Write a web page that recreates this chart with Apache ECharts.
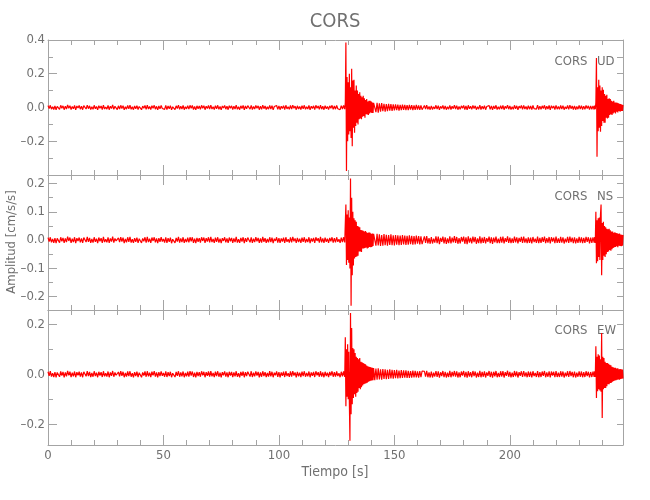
<!DOCTYPE html>
<html><head><meta charset="utf-8">
<script src="https://cdn.jsdelivr.net/npm/echarts@6/dist/echarts.min.js"></script>
<style>html,body{margin:0;padding:0;background:#fff}#c{width:650px;height:500px}</style>
</head><body><div id="c"></div><script>
// ---- sampling of the traces (segment start time [s] and step [s]) ----
const segStart = [0, 128.25, 141.5, 163, 236.25];
const segStep = [0.5, 0.25, 0.5, 0.5, 0.25];

// ---- UD component (cm/s/s) ----
const udQuiet1 = [
.011,-.006,.013,-.01,.004,-.012,.009,-.014,.007,.002,-.011,.013,-.005,.01,-.013,.008,-.009,.015,-.004,.011,
-.012,.006,-.008,.012,-.014,.009,-.003,.012,-.01,.007,-.013,.011,.004,-.009,.014,-.007,.01,-.012,.005,-.011,
.013,-.008,.006,-.014,.011,-.005,.009,-.012,.014,-.009,.003,-.01,.012,-.013,.008,-.006,.015,-.011,.007,-.004,
-.012,.01,-.009,.013,-.006,.011,-.014,.005,-.01,.012,-.008,.014,-.011,.004,-.013,.009,-.007,.011,-.012,.006,
.01,-.013,.008,-.005,.012,-.011,.014,-.009,.006,-.012,.011,-.004,.013,-.01,.007,-.014,.009,-.008,.012,-.006,
.005,-.011,.013,-.012,.009,-.007,.011,-.014,.004,.008,-.012,.01,-.006,.014,-.011,.007,-.009,.012,-.013,.005,
-.008,.011,-.01,.013,-.005,.012,-.012,.006,-.014,.01,-.007,.009,-.011,.013,-.004,.011,-.013,.008,-.006,.012,
-.01,.014,-.009,.005,-.012,.011,-.007,.013,-.011,.006,-.014,.009,-.003,.012,-.01,.008,-.013,.011,-.005,.01,
-.012,.007,-.009,.014,-.011,.004,-.013,.01,-.006,.012,-.014,.009,-.008,.011,.003,-.01,.013,-.012,.006,-.009,
.012,-.005,.01,-.013,.008,-.011,.014,-.007,.009,-.012,.005,-.01,.013,-.009,.011,-.014,.006,-.004,.012,-.011,
.009,-.013,.007,-.006,.011,-.012,.013,-.008,.004,-.011,.012,-.01,.014,-.005,.008,-.013,.01,-.009,.006,-.012,
.011,-.007,.013,-.011,.005,-.009,.012,-.014,.008,-.006,.01,-.012,.013,-.004,.009,-.011,.014,-.01,.007,-.013,
.011,-.008,.006,-.012,.01,-.005,.013,-.011,.009,-.01,.012,-.007,.004,-.013,.011,-.009,.012];
const udEvent1 = [.012,-.01,.03,
.385,-.377,.18,-.2, .15,-.16,.2,-.14, .12,-.18,.23,-.23, .16,-.12,.165,-.15,
.1,-.11,.13,-.09, .1,-.1,.08,-.07, .09,-.065,.07,-.07, .06,-.055,.07,-.05,
.055,-.06,.045,-.04, .05,-.042,.035,-.045, .04,-.035,.04,-.03, .035,-.033,.03,-.032, .028];
const udCoda1 = [.03,-.028,.027,-.03,.025,-.024,.026,-.022,.022,-.025,
.02,-.022,.021,-.018,.02,-.02,.018,-.017,.019,-.016,
.017,-.018,.015,-.016,.017,-.014,.015,-.016,.014,-.015,
.016,-.013,.014,-.015,.013,-.014,.015,-.012,.013,-.014,
.012,-.013];
const udQuiet2 = [
.012,-.009,.014,-.011,.006,-.013,.01,-.012,.004,-.008,.013,-.01,.011,-.014,.007,-.006,.012,-.011,.009,-.013,
.005,-.01,.013,-.012,.008,-.007,.014,-.009,.011,-.013,.006,-.011,.01,-.004,.012,-.012,.009,-.014,.013,-.008,
.007,-.011,.012,-.006,.01,-.013,.005,-.01,.014,-.012,.008,-.009,.011,-.013,.006,-.005,.012,-.011,.01,-.014,
.009,-.007,.013,-.012,.004,-.011,.011,-.009,.012,-.013,.007,-.006,.014,-.01,.009,-.012,.005,-.011,.013,-.008,
.01,-.014,.008,-.005,.012,-.011,.013,-.009,.006,-.012,.011,-.01,.009,-.013,.012,-.007,.004,-.01,.014,-.012,
.008,-.011,.01,-.006,.013,-.012,.007,-.009,.012,-.014,.011,-.005,.009,-.012,.013,-.01,.006,-.011,.012,-.009,
.011,-.013,.005,-.008,.012,-.011,.014,-.007,.009,-.012,.01,-.013,.006,-.01,.013,-.009,.011,-.012,.008,-.011,
.012,-.006,.01,-.013,.009,-.011,.01];
const udEvent2 = [.01,-.012,.011,
-.01,.03,.294,-.292, .12,-.14,.165,-.12, .13,-.143,.1,-.11, .12,-.08,.105,-.09,
.08,-.09,.07,-.06, .075,-.065,.05,-.06, .055,-.045,.05,-.04, .04,-.044,.036,-.035,
.04,-.03,.03,-.035, .03,-.025,.028,-.03, .025,-.02,.022,-.025, .02,-.02,.018,-.02, .015];

// ---- NS component ----
const nsQuiet1 = [
.009,-.005,.01,-.008,.004,-.01,.007,-.011,.006,.002,-.009,.01,-.004,.008,-.01,.006,-.007,.012,-.003,.009,
-.01,.005,-.007,.01,-.011,.007,-.003,.009,-.008,.006,-.01,.009,.003,-.007,.011,-.006,.008,-.01,.004,-.009,
.01,-.006,.005,-.011,.009,-.004,.007,-.01,.011,-.007,.003,-.008,.01,-.01,.006,-.005,.012,-.009,.006,-.003,
-.01,.008,-.007,.01,-.005,.009,-.011,.004,-.008,.01,-.006,.011,-.009,.003,-.01,.007,-.006,.009,-.01,.005,
.008,-.01,.006,-.004,.01,-.009,.011,-.007,.005,-.01,.009,-.003,.01,-.008,.006,-.011,.007,-.006,.01,-.005,
.004,-.009,.01,-.01,.007,-.006,.009,-.011,.003,.006,-.01,.008,-.005,.011,-.009,.006,-.007,.01,-.01,.004,
-.007,.009,-.008,.01,-.004,.01,-.01,.005,-.011,.008,-.006,.007,-.009,.01,-.003,.009,-.01,.007,-.005,.01,
-.008,.011,-.007,.004,-.01,.009,-.006,.01,-.009,.005,-.011,.007,-.003,.01,-.008,.006,-.01,.009,-.004,.008,
-.01,.006,-.007,.011,-.009,.003,-.01,.008,-.005,.01,-.011,.007,-.006,.009,.003,-.008,.01,-.01,.005,-.007,
.01,-.004,.008,-.01,.006,-.009,.011,-.006,.007,-.01,.004,-.008,.01,-.007,.009,-.011,.005,-.003,.01,-.009,
.007,-.01,.006,-.005,.009,-.01,.01,-.006,.003,-.009,.01,-.008,.011,-.004,.006,-.01,.008,-.007,.005,-.01,
.009,-.006,.01,-.009,.004,-.007,.01,-.011,.006,-.005,.008,-.01,.01,-.003,.007,-.009,.011,-.008,.006,-.01,
.009,-.006,.005,-.01,.008,-.004,.01,-.009,.007,-.008,.01,-.006,.003,-.01,.009,-.007,.01];
const nsEvent1 = [.01,-.008,.06,
.126,-.088,.09,-.07, .105,-.08,.08,-.1, .218,-.232,.15,-.124, .1,-.09,.077,-.065,
.07,-.06,.065,-.058, .05,-.055,.048,-.04, .045,-.04,.036,-.042, .035,-.03,.033,-.03,
.03,-.028,.032,-.026, .028,-.03,.025,-.027, .028,-.024,.026,-.025, .022,-.024,.023,-.021, .022];
const nsCoda1 = [.021,-.02,.022,-.019,.02,-.021,.018,-.02,.021,-.018,
.019,-.02,.018,-.017,.02,-.018,.017,-.019,.018,-.016,
.017,-.018,.016,-.017,.018,-.015,.016,-.017,.015,-.016,
.017,-.014,.015,-.016,.014,-.015,.016,-.013,.014,-.015,
.013,-.014];
const nsQuiet2 = [
.013,-.01,.014,-.012,.007,-.013,.011,-.012,.005,-.009,.013,-.011,.012,-.014,.008,-.006,.012,-.012,.01,-.013,
.006,-.011,.013,-.012,.009,-.008,.014,-.01,.011,-.013,.007,-.012,.011,-.005,.012,-.013,.01,-.014,.013,-.009,
.008,-.012,.012,-.007,.011,-.013,.006,-.011,.013,-.012,.009,-.01,.011,-.012,.007,-.006,.012,-.011,.01,-.013,
.009,-.008,.012,-.011,.005,-.011,.011,-.009,.012,-.012,.007,-.006,.013,-.01,.009,-.011,.006,-.01,.012,-.008,
.01,-.012,.008,-.006,.011,-.01,.012,-.009,.006,-.011,.01,-.01,.009,-.012,.011,-.007,.005,-.01,.012,-.011,
.008,-.01,.01,-.006,.012,-.011,.007,-.009,.011,-.012,.01,-.005,.009,-.011,.012,-.01,.006,-.01,.011,-.009,
.01,-.012,.005,-.008,.011,-.01,.012,-.007,.009,-.011,.01,-.012,.006,-.01,.011,-.009,.01,-.011,.008,-.01,
.011,-.006,.01,-.012,.009,-.01,.01];
const nsEvent2 = [.01,-.009,.011,
-.01,.1,-.082,.07, -.075,.077,-.06,.08, -.07,.09,.126,-.124, .06,-.07,.065,-.055,
.05,-.06,.045,-.05, .04,-.042,.038,-.04, .04,-.035,.035,-.038, .03,-.032,.03,-.028,
.026,-.025,.028,-.024, .025,-.022,.024,-.025, .022,-.02,.023,-.021, .02,-.022,.019,-.02, .018];

// ---- EW component ----
const ewQuiet1 = [
.01,-.006,.012,-.009,.004,-.011,.008,-.012,.007,.003,-.01,.011,-.005,.009,-.012,.007,-.008,.013,-.004,.01,
-.011,.006,-.008,.011,-.012,.008,-.004,.01,-.009,.007,-.012,.01,.004,-.008,.012,-.007,.009,-.011,.005,-.01,
.012,-.007,.006,-.012,.01,-.005,.008,-.011,.012,-.008,.004,-.009,.011,-.012,.007,-.006,.013,-.01,.007,-.004,
-.011,.009,-.008,.012,-.006,.01,-.012,.005,-.009,.011,-.007,.012,-.01,.004,-.012,.008,-.007,.01,-.011,.006,
.009,-.012,.007,-.005,.011,-.01,.012,-.008,.006,-.011,.01,-.004,.012,-.009,.007,-.012,.008,-.007,.011,-.006,
.005,-.01,.012,-.011,.008,-.007,.01,-.012,.004,.007,-.011,.009,-.006,.012,-.01,.007,-.008,.011,-.012,.005,
-.008,.01,-.009,.012,-.005,.011,-.011,.006,-.012,.009,-.007,.008,-.01,.012,-.004,.01,-.012,.008,-.006,.011,
-.009,.012,-.008,.005,-.011,.01,-.007,.012,-.01,.006,-.012,.008,-.004,.011,-.009,.007,-.012,.01,-.005,.009,
-.011,.007,-.008,.012,-.01,.004,-.012,.009,-.006,.011,-.012,.008,-.007,.01,.004,-.009,.012,-.011,.006,-.008,
.011,-.005,.009,-.012,.007,-.01,.012,-.007,.008,-.011,.005,-.009,.012,-.008,.01,-.012,.006,-.004,.011,-.01,
.008,-.012,.007,-.006,.01,-.011,.012,-.007,.004,-.01,.011,-.009,.012,-.005,.007,-.012,.009,-.008,.006,-.011,
.01,-.007,.012,-.01,.005,-.008,.011,-.012,.007,-.006,.009,-.011,.012,-.004,.008,-.01,.012,-.009,.007,-.012,
.01,-.007,.006,-.011,.009,-.005,.012,-.01,.008,-.009,.011,-.007,.004,-.012,.01,-.008,.011];
const ewEvent1 = [.009,-.01,.148,
-.128,.1,-.09,.12, -.1,.09,-.11,-.266, .245,-.16,.185,-.12, .105,-.095,.1,-.08,
.085,-.09,.07,-.075, .065,-.07,.06,-.055, .065,-.06,.05,-.052, .048,-.045,.045,-.04,
.042,-.038,.04,-.036, .035,-.034,.032,-.03, .03,-.028,.029,-.026, .027,-.025,.026,-.024, .025];
const ewCoda1 = [-.024,.023,-.022,.024,-.021,.02,-.022,.021,-.019,.02,
-.02,.018,-.019,.02,-.017,.018,-.018,.017,-.016,.018,
-.017,.015,-.016,.017,-.015,.016,-.014,.016,-.015,.014,
-.015,.013,-.014,.015,-.013,.014,-.013,.012,-.014,.013,
-.012,.013];
const ewQuiet2 = [
.012,-.01,.014,-.012,.007,-.013,.011,-.013,.006,-.009,.013,-.011,.012,-.014,.008,-.007,.013,-.012,.01,-.013,
.006,-.011,.014,-.012,.009,-.008,.013,-.01,.012,-.013,.007,-.012,.011,-.005,.013,-.012,.01,-.014,.012,-.009,
.008,-.012,.013,-.007,.011,-.013,.006,-.011,.014,-.012,.009,-.01,.012,-.013,.007,-.006,.013,-.011,.01,-.014,
.01,-.008,.013,-.012,.005,-.011,.012,-.009,.013,-.013,.008,-.006,.014,-.01,.009,-.012,.006,-.011,.013,-.008,
.011,-.013,.008,-.006,.012,-.011,.013,-.009,.007,-.012,.011,-.01,.01,-.013,.012,-.007,.005,-.011,.013,-.012,
.008,-.011,.011,-.006,.013,-.012,.007,-.01,.012,-.013,.011,-.005,.01,-.012,.013,-.011,.006,-.011,.012,-.009,
.011,-.013,.006,-.008,.012,-.011,.013,-.007,.009,-.012,.011,-.013,.006,-.01,.012,-.01,.011,-.012,.008,-.011,
.012,-.007,.01,-.013,.009,-.011,.011];
const ewEvent2 = [.011,-.01,.012,
-.011,.112,-.095,.07, -.068,.08,-.06,.075, -.065,.06,-.07,.165, -.175,.07,-.06,.065,
-.055,.05,-.055,.045, -.048,.045,-.04,.042, -.04,.038,-.035,.036, -.034,.03,-.03,.028,
-.027,.026,-.025,.026, -.024,.023,-.022,.024, -.021,.02,-.022,.021, -.019,.02,-.018,.019, -.017];

// ---- axes ----
const xRange = [0, 249];
const xMajorTicks = [0, 50, 100, 150, 200];
const xMinorTicks = [10,20,30,40,60,70,80,90,110,120,130,140,160,170,180,190,210,220,230,240];
const yRanges = [[-0.4, 0.4], [-0.247, 0.23], [-0.283, 0.257]];
const yMajorTicks = [[-0.4, -0.2, 0, 0.2, 0.4], [-0.2, -0.1, 0, 0.1, 0.2], [-0.2, 0, 0.2]];
const yLabelTicks = [[-0.2, 0, 0.2, 0.4], [-0.2, -0.1, 0, 0.1, 0.2], [-0.2, 0, 0.2]];
const yMinorTicks = [[-0.3, -0.1, 0.1, 0.3], [-0.15, -0.05, 0.05, 0.15], [-0.1, 0.1]];
const yRightTicks = [[-0.3,-0.2,-0.1,0,0.1,0.2,0.3], [-0.2,-0.15,-0.1,-0.05,0,0.05,0.1,0.15,0.2], [-0.2,-0.1,0,0.1,0.2]];
const componentNames = ['UD', 'NS', 'EW'];
const stationName = 'CORS';
const titleText = 'CORS';
const xTitle = 'Tiempo [s]';
const yTitle = 'Amplitud [cm/s/s]';

function seg(vals, k) { return vals.map((v, i) => [+(segStart[k] + i * segStep[k]).toFixed(2), v]); }
function trace(parts) { let out = []; parts.forEach((p, k) => { out = out.concat(seg(p, k)); }); return out; }
const comps = [
  [udQuiet1, udEvent1, udCoda1, udQuiet2, udEvent2],
  [nsQuiet1, nsEvent1, nsCoda1, nsQuiet2, nsEvent2],
  [ewQuiet1, ewEvent1, ewCoda1, ewQuiet2, ewEvent2]
];

const FONT = "'Liberation Sans Narrow','DejaVu Sans Condensed','Liberation Sans',sans-serif";
const TXT = '#707070';
const AX = '#a4a4a4';
const gridTops = [40, 175, 310];
const fmt = v => (Math.abs(v) < 1e-9 ? '0.0' : v.toFixed(1).replace('-', '\u2013'));

const grids = [], xAxes = [], yAxes = [], series = [], graphics = [];
for (let g = 0; g < 3; g++) {
  grids.push({ left: 48, right: 27, top: gridTops[g], height: 135 });
  ['bottom', 'top'].forEach(pos => {
    xAxes.push({ gridIndex: g, type: 'value', position: pos, min: xRange[0], max: xRange[1],
      axisLine: { show: true, onZero: false, lineStyle: { color: AX, width: 1 } },
      axisTick: { show: true, inside: true, length: 10, lineStyle: { color: AX }, customValues: xMajorTicks },
      axisLabel: { show: g === 2 && pos === 'bottom', customValues: xMajorTicks, margin: 4, color: TXT, fontSize: 13, fontFamily: FONT },
      splitLine: { show: false } });
    xAxes.push({ gridIndex: g, type: 'value', position: pos, min: xRange[0], max: xRange[1],
      axisLine: { show: false, onZero: false },
      axisTick: { show: true, inside: true, length: 5, lineStyle: { color: AX }, customValues: xMinorTicks },
      axisLabel: { show: false }, splitLine: { show: false } });
  });
  yAxes.push({ gridIndex: g, type: 'value', position: 'left', min: yRanges[g][0], max: yRanges[g][1],
    axisLine: { show: true, onZero: false, lineStyle: { color: AX } },
    axisTick: { show: true, inside: true, length: 9, lineStyle: { color: AX }, customValues: yMajorTicks[g] },
    axisLabel: { show: true, customValues: yLabelTicks[g], formatter: fmt, margin: 3, color: TXT, fontSize: 13, fontFamily: FONT },
    splitLine: { show: false } });
  yAxes.push({ gridIndex: g, type: 'value', position: 'left', min: yRanges[g][0], max: yRanges[g][1],
    axisLine: { show: false, onZero: false },
    axisTick: { show: true, inside: true, length: 5, lineStyle: { color: AX }, customValues: yMinorTicks[g] },
    axisLabel: { show: false }, splitLine: { show: false } });
  yAxes.push({ gridIndex: g, type: 'value', position: 'right', min: yRanges[g][0], max: yRanges[g][1],
    axisLine: { show: true, onZero: false, lineStyle: { color: AX } },
    axisTick: { show: true, inside: true, length: 6, lineStyle: { color: AX }, customValues: yRightTicks[g] },
    axisLabel: { show: false }, splitLine: { show: false } });
  series.push({ type: 'line', xAxisIndex: g * 4, yAxisIndex: g * 3, data: trace(comps[g]), showSymbol: false,
    symbol: 'none', sampling: null, lineStyle: { color: '#ff0000', width: 1.2 }, animation: false, silent: true, z: 1 });
  const ly = [62, 197, 331][g];
  graphics.push({ type: 'text', x: 571, y: ly, style: { text: stationName, align: 'center', verticalAlign: 'middle', fill: TXT, fontSize: 13, fontFamily: FONT } });
  graphics.push({ type: 'text', x: 597, y: ly, style: { text: componentNames[g], align: 'left', verticalAlign: 'middle', fill: TXT, fontSize: 13, fontFamily: FONT } });
}
graphics.push({ type: 'text', x: 335, y: 22, style: { text: titleText, align: 'center', verticalAlign: 'middle', fill: TXT, fontSize: 20, fontFamily: FONT } });
graphics.push({ type: 'text', x: 335, y: 472, style: { text: xTitle, align: 'center', verticalAlign: 'middle', fill: TXT, fontSize: 14, fontFamily: FONT } });
graphics.push({ type: 'text', x: 12, y: 242, rotation: Math.PI / 2, style: { text: yTitle, align: 'center', verticalAlign: 'middle', fill: TXT, fontSize: 13, fontFamily: FONT } });

const chart = echarts.init(document.getElementById('c'), null, { renderer: 'canvas' });
chart.setOption({ animation: false, backgroundColor: '#fff', grid: grids, xAxis: xAxes, yAxis: yAxes, series: series, graphic: graphics });
</script></body></html>
